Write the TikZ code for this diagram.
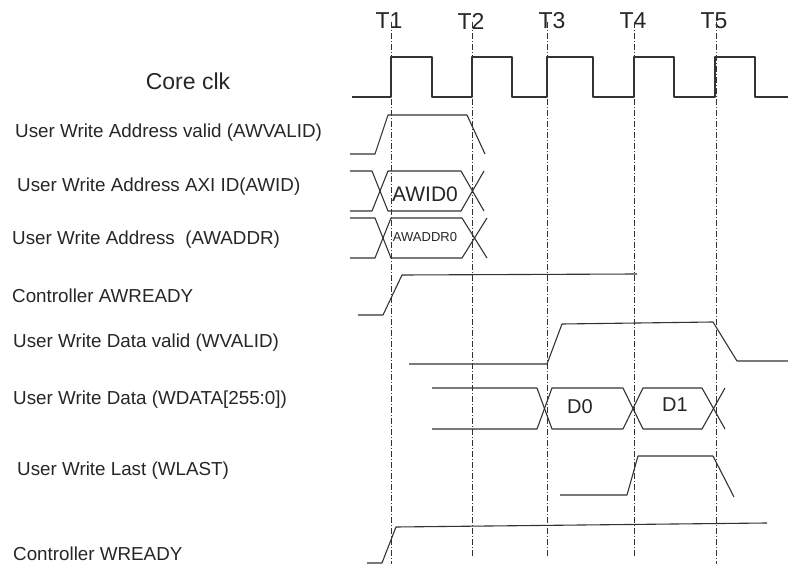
\documentclass[tikz,border=0pt]{standalone}
\usepackage{fontspec}
\setmainfont{Liberation Sans}

\begin{document}
\begin{tikzpicture}[x=1pt,y=-1pt,
   wave/.style={line width=1.1pt,black!80,line join=round},
   tickline/.style={line width=0.9pt,black!80,dash pattern=on 6pt off 2pt on 1pt off 2pt},
   siglabel/.style={anchor=west,inner sep=0pt,text=black!85,font=\fontsize{18.8}{20}\selectfont},
   tlabel/.style={inner sep=0pt,text=black!85,font=\fontsize{23}{24}\selectfont}]

   \useasboundingbox (0,0) rectangle (788,564);

   % clock edges T1..T5
   \node[tlabel] (t1) at (389,21) {T1};
   \node[tlabel] (t2) at (471,21) {T2};
   \node[tlabel] (t3) at (552,21) {T3};
   \node[tlabel] (t4) at (633,21) {T4};
   \node[tlabel] (t5) at (714,21) {T5};
   \draw[tickline] (391,22) -- (391,564);
   \draw[tickline] (472,22) -- (472,556);
   \draw[tickline] (547,22) -- (547,556);
   \draw[tickline] (634,22) -- (634,556);
   \draw[tickline] (716,22) -- (716,564);

   % signal names
   \node[tlabel] (clk) at (188,81) {Core clk};
   \node[siglabel] (awvalid) at (15,133) {User Write Address valid (AWVALID)};
   \node[siglabel] (awid) at (17,187) {User Write Address AXI ID(AWID)};
   \node[siglabel] (awaddr) at (12,240) {User Write Address\ \ (AWADDR)};
   \node[siglabel] (awready) at (12,296) {Controller AWREADY};
   \node[siglabel] (wvalid) at (13,343) {User Write Data valid (WVALID)};
   \node[siglabel] (wdata) at (13,400) {User Write Data (WDATA[255:0])};
   \node[siglabel] (wlast) at (17,471) {User Write Last (WLAST)};
   \node[siglabel] (wready) at (13,554) {Controller WREADY};

   % core clk
   \draw[wave] (352,97) -- (391,97) -- (391,57) -- (432,57) -- (432,97)
      -- (472,97) -- (472,57) -- (512,57) -- (512,97)
      -- (547,97) -- (547,57) -- (593,57) -- (593,97)
      -- (634,97) -- (634,57) -- (674,57) -- (674,97)
      -- (715,97) -- (715,57) -- (755,57) -- (755,97) -- (788,97);

   % write address channel
   \draw[wave] (350,154) -- (375,154) -- (388,115) -- (467,115) -- (485,154);

   \draw[wave] (350,171) -- (372,171) -- (388,211) -- (461,211) -- (484,171);
   \draw[wave] (350,211) -- (372,211) -- (388,171) -- (461,171) -- (484,211);
   \node[inner sep=0pt,text=black!85,font=\fontsize{21}{22}\selectfont] (awid0) at (425,194) {AWID0};

   \draw[wave] (350,218) -- (375,218) -- (391,258) -- (462,258) -- (487,218);
   \draw[wave] (350,258) -- (375,258) -- (391,218) -- (462,218) -- (487,258);
   \node[inner sep=0pt,text=black!85,font=\fontsize{13}{14}\selectfont] (awaddr0) at (425,237) {AWADDR0};

   \draw[wave] (358,315) -- (383,315) -- (402,275) -- (637,274);

   % write data channel
   \draw[wave] (409,364) -- (547,364) -- (562,324) -- (713,322) -- (737,361) -- (788,361);

   \draw[wave] (432,388) -- (537,388) -- (552,429) -- (623,429) -- (643,388) -- (702,388) -- (725,429);
   \draw[wave] (432,429) -- (537,429) -- (552,388) -- (623,388) -- (643,429) -- (702,429) -- (725,388);
   \node[inner sep=0pt,text=black!85,font=\fontsize{20}{21}\selectfont] (d0) at (580,407) {D0};
   \node[inner sep=0pt,text=black!85,font=\fontsize{20}{21}\selectfont] (d1) at (675,405) {D1};

   \draw[wave] (560,495) -- (627,495) -- (638,456) -- (713,456) -- (734,497);

   \draw[wave] (367,563) -- (382,563) -- (396,527) -- (767,523);

\end{tikzpicture}
\end{document}
